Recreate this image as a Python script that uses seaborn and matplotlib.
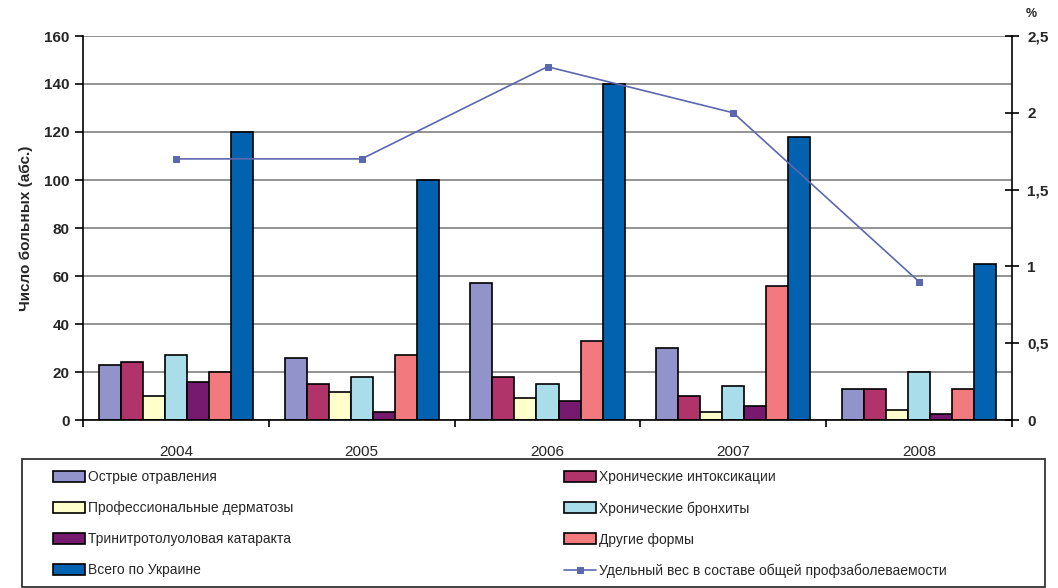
import numpy as np
import pandas as pd
import matplotlib
matplotlib.use("Agg")
import matplotlib.pyplot as plt
from matplotlib.patches import Rectangle
import seaborn as sns

years = ["2004", "2005", "2006", "2007", "2008"]
categories = ["Острые отравления", "Хронические интоксикации",
              "Профессиональные дерматозы", "Хронические бронхиты",
              "Тринитротолуоловая катаракта", "Другие формы", "Всего по Украине"]
acute = [23, 26, 57, 30, 13]
chronic_intox = [24, 15, 18, 10, 13]
dermatoses = [10, 11.5, 9, 3.5, 4]
bronchitis = [27, 18, 15, 14, 20]
cataract = [16, 3.5, 8, 6, 2.5]
other = [20, 27, 33, 56, 13]
total = [120, 100, 140, 118, 65]
share_pct = [1.7, 1.7, 2.3, 2.0, 0.9]
line_label = "Удельный вес в составе общей профзаболеваемости"
right_ticks = [0, 0.5, 1, 1.5, 2, 2.5]
right_ticklabels = ["0", "0,5", "1", "1,5", "2", "2,5"]

colors = ["#9393CC", "#B0336A", "#FFFFCC", "#A9DDEA", "#751A6F", "#F27A7E", "#0262B0"]
line_color = "#5B67AE"

series = [acute, chronic_intox, dermatoses, bronchitis, cataract, other, total]
rows = []
for cat, vals in zip(categories, series):
    for y, v in zip(years, vals):
        rows.append({"year": y, "category": cat, "value": v})
df = pd.DataFrame(rows)

sns.set_style("white")
plt.rcParams["font.family"] = ["Liberation Sans", "DejaVu Sans"]

W, H = 1058, 588
fig = plt.figure(figsize=(W / 100, H / 100), dpi=100)
ax = fig.add_axes([83 / W, 1 - 420 / H, (1012 - 83) / W, (420 - 36) / H])

sns.barplot(data=df, x="year", y="value", hue="category", hue_order=categories,
            palette=colors, width=0.83, gap=0, edgecolor="black", linewidth=1.2,
            saturation=1, ax=ax, legend=True)

ax.set_ylim(0, 160)
ax.set_xlim(-0.5, 4.5)
ax.set_yticks(range(0, 161, 20))
ax.yaxis.grid(True, color="#8a8a8a", linewidth=1.3)
ax.set_axisbelow(True)
for s in ["top", "right"]:
    ax.spines[s].set_visible(False)
ax.spines["left"].set_color("black")
ax.spines["bottom"].set_color("black")
ax.spines["left"].set_linewidth(1.2)
ax.spines["bottom"].set_linewidth(1.2)
ax.tick_params(axis="y", direction="out", length=6, width=1.2, color="black",
               left=True, labelsize=11)
for lab in ax.get_yticklabels():
    lab.set_fontweight("bold")
ax.set_xticks(range(5))
ax.set_xticklabels(years, fontsize=11)
ax.set_xticks(np.arange(-0.5, 5, 1), minor=True)
ax.tick_params(axis="x", which="major", length=0, pad=18)
ax.tick_params(axis="x", which="minor", direction="out", length=5, width=1.2,
               color="black", bottom=True)
ax.set_xlabel("")
ax.set_ylabel("Число больных (абс.)", fontsize=11, fontweight="bold", labelpad=8)

ax2 = ax.twinx()
sns.lineplot(x=np.arange(5), y=share_pct, ax=ax2, color=line_color, linewidth=1.2,
             marker="s", markersize=4, markeredgecolor=line_color, label=line_label,
             legend=False)
ax2.set_ylim(0, 2.5)
ax2.set_xlim(-0.5, 4.5)
ax2.set_yticks(right_ticks)
ax2.set_yticklabels(right_ticklabels, fontsize=11, fontweight="bold")
ax2.tick_params(axis="y", direction="inout", length=10, width=1.2, color="black",
                right=True, pad=6)
ax2.grid(False)
for s in ["top", "left", "bottom"]:
    ax2.spines[s].set_visible(False)
ax2.spines["right"].set_color("black")
ax2.spines["right"].set_linewidth(1.2)
ax2.set_ylabel("")
fig.text(1031 / W, 1 - 14 / H, "%", fontsize=9, fontweight="bold", ha="center", va="center")

handles, labels = ax.get_legend_handles_labels()
ax.get_legend().remove()
h2, l2 = ax2.get_legend_handles_labels()
handles = handles + h2
labels = labels + l2

# legend frame
fig.patches.append(Rectangle((22 / W, 0.002), (1045 - 22) / W, (587 - 459) / H,
                             transform=fig.transFigure, fill=False,
                             edgecolor="#333333", linewidth=1.3))

leg_kw = dict(frameon=False, fontsize=10, handlelength=2.3, handleheight=0.87,
              handletextpad=0.2, borderaxespad=0, borderpad=0, labelspacing=1.23,
              loc="upper left")
left_idx = [0, 2, 4, 6]
right_idx = [1, 3, 5, 7]
leg1 = fig.legend([handles[i] for i in left_idx], [labels[i] for i in left_idx],
                  bbox_to_anchor=(53 / W, 1 - 470 / H), **leg_kw)
leg2 = fig.legend([handles[i] for i in right_idx], [labels[i] for i in right_idx],
                  bbox_to_anchor=(564 / W, 1 - 470 / H), **leg_kw)

fig.savefig("out.png", dpi=100)
